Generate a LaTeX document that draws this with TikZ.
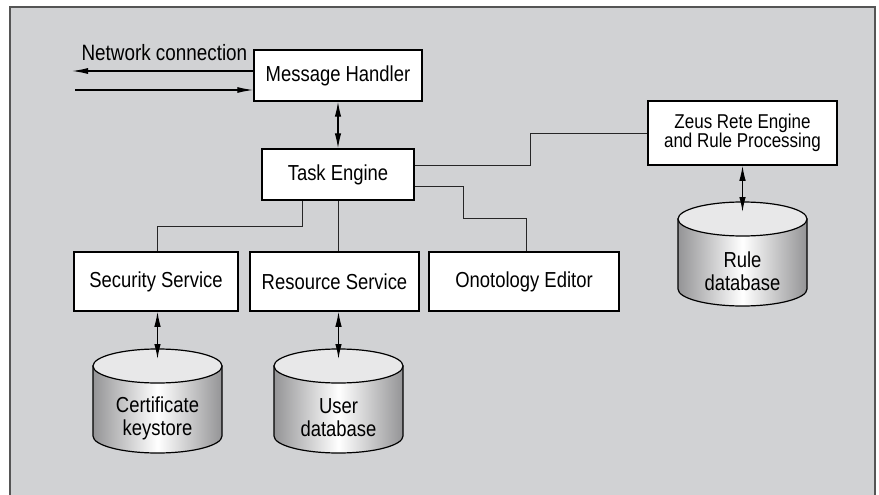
\documentclass[tikz,border=0pt]{standalone}
\usepackage{fontspec}
\setmainfont{Liberation Sans}[FakeStretch=0.85]
\usetikzlibrary{arrows.meta,positioning,calc}

\definecolor{panel}{RGB}{209,210,212}
\definecolor{framegray}{RGB}{85,85,85}
\definecolor{capgray}{RGB}{232,232,233}
\definecolor{sidegray}{RGB}{148,148,150}

% data store drawn as a shaded cylinder: name, centre x, top y, label
\newcommand{\datastore}[4]{%
  \pgfmathsetmacro{\capy}{#3+17}
  \pgfmathsetmacro{\basey}{#3+87}
  \shadedraw[left color=sidegray, right color=sidegray, middle color=white, draw=black, line width=1.2pt]
    (#2-64.5,\capy) -- (#2-64.5,\basey)
    arc[start angle=180, end angle=360, x radius=64.5pt, y radius=17pt]
    -- (#2+64.5,\capy) -- cycle;
  \filldraw[fill=capgray, draw=black, line width=1.2pt] (#2,\capy) ellipse[x radius=64.5pt, y radius=17pt];
  \node[storelabel] (#1) at (#2,#3+69) {#4};
  \coordinate (#1 top) at (#2,#3+10);
}

\begin{document}
\begin{tikzpicture}[x=1pt, y=-1pt,
  box/.style={draw=black, fill=white, line width=1.5pt, text=black, inner sep=0pt,
    font=\fontsize{21.7}{23}\selectfont},
  storelabel/.style={align=center, text=black, font=\fontsize{21.7}{23}\selectfont},
  link/.style={draw=black!85, line width=1pt},
  both/.style={draw=black, line width=1.2pt, {Latex[length=15pt,width=6.5pt]}-{Latex[length=15pt,width=6.5pt]}},
  single/.style={draw=black, line width=1.2pt, -{Latex[length=16pt,width=6pt]}}]
  \useasboundingbox (0,0) rectangle (879,495);
  % grey panel, open at the bottom
  \fill[panel] (10,7) rectangle (875,495);
  \draw[framegray, line width=2pt] (10,495) -- (10,7) -- (875,7) -- (875,495);

  % components
  \node[box, minimum width=168, minimum height=51] (handler) at (338,75.5) {Message Handler};
  \node[box, minimum width=152, minimum height=51] (task) at (338,174.5) {Task Engine};
  \node[box, minimum width=189, minimum height=64, align=center,
    font=\fontsize{20}{19.5}\selectfont] (zeus) at (742.5,133) {Zeus Rete Engine\\and Rule Processing};
  \node[box, minimum width=164, minimum height=59] (security) at (156,281.5) {Security Service};
  \node[box, minimum width=169, minimum height=59] (resource) at (334.5,281.5) {Resource Service};
  \node[box, minimum width=190, minimum height=59] (onto) at (524,281.5) {Onotology Editor};

  % stores
  \datastore{cert}{157.5}{349}{Certificate\\keystore}
  \datastore{user}{338.5}{349}{User\\database}
  \datastore{rule}{742.5}{202}{Rule\\database}

  % network side
  \coordinate (net out) at (72,71);
  \coordinate (net in) at (75,90);
  \node[anchor=base west, text=black, font=\fontsize{22.2}{24}\selectfont] (netlabel) at (78,61) {Network connection};
  \draw[single] (net out -| handler.west) -- (net out);
  \draw[single] (net in) -- (net in -| handler.west);

  % connections
  \draw[both] (handler) -- (task);
  \draw[link] ([yshift=9.5pt]task.east) -- ++(116,0) |- (zeus.west);
  \draw[link] ([yshift=-11.5pt]task.east) -- ++(49,0) -- ++(0,32) -| ([xshift=2pt]onto.north);
  \draw[link] ([xshift=-36pt]task.south) -- ++(0,26) -| ([xshift=1pt]security.north);
  \draw[link] (task.south) -- (task.south |- resource.north);
  \draw[both] (zeus.south) -- (rule top);
  \draw[both] (security.south -| cert top) -- (cert top);
  \draw[both] (resource.south -| user top) -- (user top);
\end{tikzpicture}
\end{document}
